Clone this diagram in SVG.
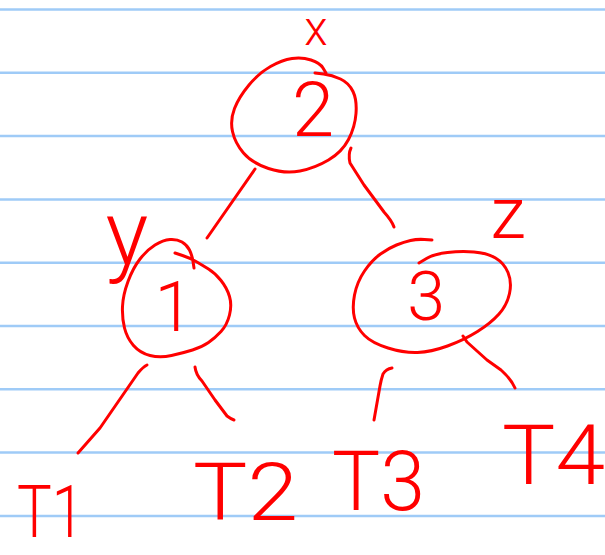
<svg xmlns="http://www.w3.org/2000/svg" width="605" height="555" viewBox="0 0 605 555">
<style>
.rule{stroke:#9fcbf7;stroke-width:2.5;fill:none}
.ink{stroke:#ff0000;stroke-width:3;fill:none;stroke-linecap:round;stroke-linejoin:round}
.lbl{fill:#ff0000;font-family:Roboto,"Liberation Sans",sans-serif;font-weight:300;text-anchor:middle}
.leaf{fill:#ff0000;font-family:Roboto,"Liberation Sans",sans-serif;font-weight:300}
</style>
<rect width="605" height="555" fill="#ffffff"/>
<g id="paper">
<line class="rule" x1="0" y1="9.5" x2="605" y2="9.5"/>
<line class="rule" x1="0" y1="72.8" x2="605" y2="72.8"/>
<line class="rule" x1="0" y1="136.1" x2="605" y2="136.1"/>
<line class="rule" x1="0" y1="199.4" x2="605" y2="199.4"/>
<line class="rule" x1="0" y1="262.7" x2="605" y2="262.7"/>
<line class="rule" x1="0" y1="326" x2="605" y2="326"/>
<line class="rule" x1="0" y1="389.3" x2="605" y2="389.3"/>
<line class="rule" x1="0" y1="452.6" x2="605" y2="452.6"/>
<line class="rule" x1="0" y1="515.9" x2="605" y2="515.9"/>
</g>
<g id="connectors" class="ink">
<path d="M255,169 L207,238"/>
<path d="M351,148 Q348,154 350,163 L364,185 L384,212 Q392,221 394,227"/>
<path d="M147,365 Q143,367 138,373 L100,428 L78,453"/>
<path d="M195,367 Q196,375 202,381 L215,400 L227,416 Q231,419 234,420"/>
<path d="M392,368 Q386,369 383,374 Q381,380 380,386 L374,420"/>
<path d="M463,336 L467,342 L487,360 L501,370 Q511,379 515,388"/>
</g>
<g id="node-2">
<path class="ink" d="M326,73 L323,68 Q320,63 311,60 Q302,57 292,58.5 Q282,60 270.5,66.5 Q259,73 249,85 Q239,97 234.5,108.5 Q230,120 232.5,131.5 Q235,143 243.5,153 Q252,163 268.5,168.5 Q285,174 300,171 Q315,168 328.5,160 Q342,152 348.5,139.5 Q355,127 356,113.5 Q357,100 353,91.5 Q349,83 340.5,79 Q332,75 323.5,74 L315,73"/>
<text class="lbl" x="313" y="136" font-size="76">2</text>
<text class="lbl" x="316" y="45" font-size="48">x</text>
</g>
<g id="node-1">
<path class="ink" d="M175,253 L182.5,255.5 Q190,258 196,261.5 Q202,265 208.5,269 Q215,273 221,280.5 Q227,288 229.5,296.5 Q232,305 229.5,315 Q227,325 221,331.5 Q215,338 208.5,342.5 Q202,347 192.5,350 Q183,353 171.5,355.5 Q160,358 150,355.5 Q140,353 133.5,345.5 Q127,338 124.5,328 Q122,318 122.5,306.5 Q123,295 128,281.5 Q133,268 140,259 Q147,250 155,245 Q163,240 170,239.5 Q177,239 182,242 Q187,245 189.5,250 Q192,255 193,261.5 L194,268"/>
<text class="lbl" x="174" y="331" font-size="70">1</text>
<text class="lbl" x="127" y="265" font-size="90">y</text>
</g>
<g id="node-3">
<path class="ink" d="M432,240 L424.5,239.5 Q417,239 410.5,240.5 Q404,242 396.5,245 Q389,248 380.5,254 Q372,260 364.5,271 Q357,282 354.5,295 Q352,308 354.5,318 Q357,328 364.5,335.5 Q372,343 388,348 Q404,353 417.5,352.5 Q431,352 447.5,346 Q464,340 477.5,331.5 Q491,323 499,314 Q507,305 509.5,293.5 Q512,282 508,272.5 Q504,263 495.5,258 Q487,253 474,252 Q461,251 447.5,252.5 Q434,254 426.5,258.5 L419,263"/>
<text class="lbl" x="426" y="320" font-size="68">3</text>
<text class="lbl" x="508" y="238" font-size="72">z</text>
</g>
<g id="leaf-T1"><text class="leaf" x="17" y="537" font-size="72" textLength="67" lengthAdjust="spacingAndGlyphs">T1</text></g>
<g id="leaf-T2"><text class="leaf" x="193" y="520" font-size="80" textLength="105" lengthAdjust="spacingAndGlyphs">T2</text></g>
<g id="leaf-T3"><text class="leaf" x="332" y="510" font-size="84" textLength="93" lengthAdjust="spacingAndGlyphs">T3</text></g>
<g id="leaf-T4"><text class="leaf" x="502" y="484" font-size="84" textLength="103" lengthAdjust="spacingAndGlyphs">T4</text></g>
</svg>
